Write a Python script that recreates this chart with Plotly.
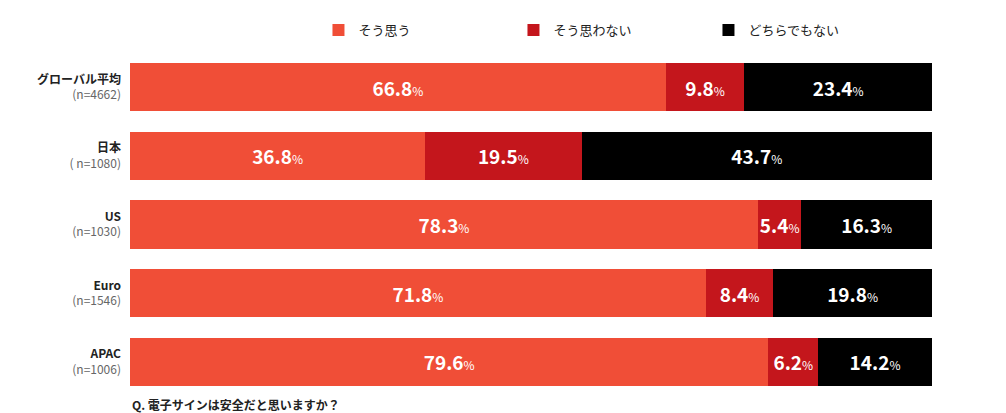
import plotly.graph_objects as go

regions = ["グローバル平均", "日本", "US", "Euro", "APAC"]
samples = ["(n=4662)", "( n=1080)", "(n=1030)", "(n=1546)", "(n=1006)"]
agree = [66.8, 36.8, 78.3, 71.8, 79.6]
disagree = [9.8, 19.5, 5.4, 8.4, 6.2]
neither = [23.4, 43.7, 16.3, 19.8, 14.2]

series = [("そう思う", agree, "#F04E37"),
          ("そう思わない", disagree, "#C4161C"),
          ("どちらでもない", neither, "#000000")]

labels = [f"<b>{r}</b><br><span style='color:#666'>{s}</span>" for r, s in zip(regions, samples)]

fig = go.Figure()
for name, vals, color in series:
    fig.add_trace(go.Bar(
        y=labels, x=vals, name=name, orientation="h",
        marker=dict(color=color, line=dict(width=0)),
        text=[f"<b>{v}</b><span style='font-size:12px'>%</span>" for v in vals],
        textposition="inside", insidetextanchor="middle", textangle=0,
        constraintext="none", cliponaxis=False,
        textfont=dict(color="white", size=19),
    ))

fig.update_layout(
    barmode="stack", bargap=0.3,
    width=1006, height=413,
    margin=dict(l=122, r=82, t=45, b=25, autoexpand=False),
    paper_bgcolor="white", plot_bgcolor="white",
    font=dict(family="Noto Sans CJK JP", size=12, color="#222"),
    showlegend=True,
    legend=dict(orientation="h", x=0.235, xanchor="left", y=1.067, yanchor="middle",
                entrywidth=150, font=dict(size=13), traceorder="normal"),
    xaxis=dict(range=[0, 100], visible=False),
    yaxis=dict(autorange="reversed", showgrid=False, ticks="", ticklabelstandoff=8,
               tickfont=dict(size=12)),
    uniformtext=dict(minsize=10, mode="show"),
    annotations=[dict(text="<b>Q. 電子サインは安全だと思いますか？</b>", xref="paper", yref="paper",
                      x=0, y=-0.025, xanchor="left", yanchor="middle", showarrow=False,
                      font=dict(size=12))],
)

fig.write_html("out.html")
